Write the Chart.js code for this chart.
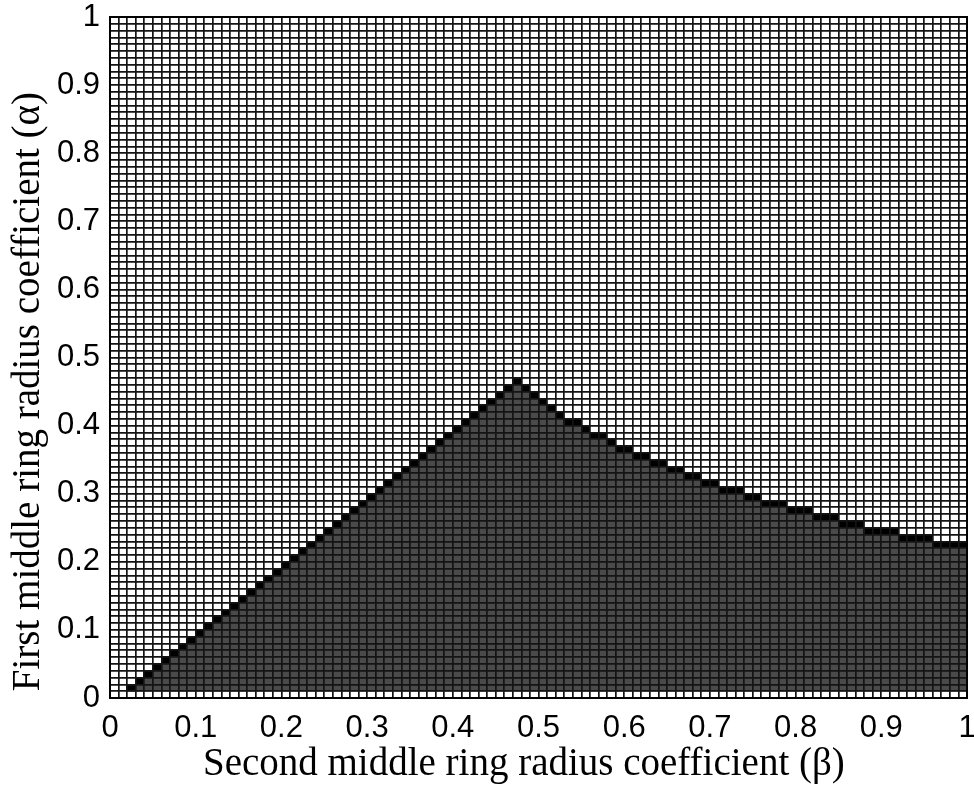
<!DOCTYPE html>
<html>
<head>
<meta charset="utf-8">
<script src="https://cdn.jsdelivr.net/npm/chart.js@4"></script>
<style>
  html, body { margin: 0; padding: 0; background: #fff; }
  #wrap { width: 974px; height: 788px; }
</style>
</head>
<body>
<div id="wrap"><canvas id="mapChart"></canvas></div>
<script>
// left edge of every grid column (beta)
const betaCols = [
  0.01, 0.02, 0.03, 0.04, 0.05, 0.06, 0.07, 0.08, 0.09, 0.10,
  0.11, 0.12, 0.13, 0.14, 0.15, 0.16, 0.17, 0.18, 0.19, 0.20,
  0.21, 0.22, 0.23, 0.24, 0.25, 0.26, 0.27, 0.28, 0.29, 0.30,
  0.31, 0.32, 0.33, 0.34, 0.35, 0.36, 0.37, 0.38, 0.39, 0.40,
  0.41, 0.42, 0.43, 0.44, 0.45, 0.46, 0.47, 0.48, 0.49, 0.50,
  0.51, 0.52, 0.53, 0.54, 0.55, 0.56, 0.57, 0.58, 0.59, 0.60,
  0.61, 0.62, 0.63, 0.64, 0.65, 0.66, 0.67, 0.68, 0.69, 0.70,
  0.71, 0.72, 0.73, 0.74, 0.75, 0.76, 0.77, 0.78, 0.79, 0.80,
  0.81, 0.82, 0.83, 0.84, 0.85, 0.86, 0.87, 0.88, 0.89, 0.90,
  0.91, 0.92, 0.93, 0.94, 0.95, 0.96, 0.97, 0.98, 0.99
];

// top of the feasible (filled) region in each column (alpha); null = empty
const alphaTop = [
  null, 0.02, 0.03, 0.04, 0.05, 0.06, 0.07, 0.08, 0.09, 0.10,
  0.11, 0.12, 0.13, 0.14, 0.15, 0.16, 0.17, 0.18, 0.19, 0.20,
  0.21, 0.22, 0.23, 0.24, 0.25, 0.26, 0.27, 0.28, 0.29, 0.30,
  0.31, 0.32, 0.33, 0.34, 0.35, 0.36, 0.37, 0.38, 0.39, 0.40,
  0.41, 0.42, 0.43, 0.44, 0.45, 0.46, 0.47, 0.46, 0.45, 0.44,
  0.43, 0.42, 0.41, 0.41, 0.40, 0.39, 0.39, 0.38, 0.37, 0.37,
  0.36, 0.36, 0.35, 0.35, 0.34, 0.34, 0.33, 0.33, 0.32, 0.32,
  0.31, 0.31, 0.31, 0.30, 0.30, 0.29, 0.29, 0.29, 0.28, 0.28,
  0.28, 0.27, 0.27, 0.27, 0.26, 0.26, 0.26, 0.25, 0.25, 0.25,
  0.25, 0.24, 0.24, 0.24, 0.24, 0.23, 0.23, 0.23, 0.23
];

const tickLabels = ['0', '0.1', '0.2', '0.3', '0.4', '0.5', '0.6', '0.7', '0.8', '0.9', '1'];

const cellStep = 0.01;
const r2 = v => Math.round(v * 1000) / 1000;

// gray body of each column and the black cell on top of it
const bodyBars = [];
const edgeBars = [];
betaCols.forEach((b, i) => {
  const top = alphaTop[i];
  if (top === null) return;
  const xc = r2(b + cellStep / 2);
  if (top - cellStep > cellStep + 1e-9) bodyBars.push({x: xc, y: [cellStep, r2(top - cellStep)]});
  edgeBars.push({x: xc, y: [r2(top - cellStep), top]});
});

const gridColor = ctx => {
  const v = ctx.tick ? ctx.tick.value : null;
  return (v === 0 || v === 1) ? 'rgba(0,0,0,0)' : '#141414';
};
const tickLabel = (value, index) => (index % 10 === 0 ? tickLabels[index / 10] : '');

const tickFont = {family: 'Liberation Sans', size: 31};
const titleFont = {family: 'Liberation Serif', size: 39};

let makeChart = function() {
  const ctx = document.getElementById('mapChart');

  new Chart(ctx, {
    type: 'bar',
    data: {
      datasets: [
        {
          label: 'region',
          data: bodyBars,
          backgroundColor: '#4a4a4a',
          borderWidth: 0,
          grouped: false,
          barPercentage: 1,
          categoryPercentage: 1,
        },
        {
          label: 'boundary',
          data: edgeBars,
          backgroundColor: '#000000',
          borderWidth: 0,
          grouped: false,
          barPercentage: 1,
          categoryPercentage: 1,
        },
      ]
    },
    options: {
      maintainAspectRatio: false,
      responsive: true,
      animation: false,
      layout: { padding: 0 },
      plugins: {
        legend: { display: false },
        tooltip: { enabled: false },
      },
      scales: {
        x: {
          type: 'linear',
          position: 'bottom',
          min: 0,
          max: 1,
          offset: false,
          ticks: {
            stepSize: 0.01,
            autoSkip: false,
            maxRotation: 0,
            minRotation: 0,
            padding: 12,
            color: '#000',
            font: tickFont,
            callback: tickLabel,
          },
          grid: { color: gridColor, lineWidth: 1.7, drawTicks: false, offset: false, z: 1 },
          border: { color: '#000', width: 2, z: 2 },
          title: {
            display: true,
            // trailing spaces nudge the label toward the origin, as in the original
            text: 'Second middle ring radius coefficient (β)\u00a0\u00a0\u00a0',
            color: '#000',
            font: titleFont,
            padding: { top: 4, bottom: 0 },
          },
          afterFit: s => { s.height = 90; s.paddingLeft = 0; s.paddingRight = 0; },
        },
        y: {
          type: 'linear',
          position: 'left',
          min: 0,
          max: 1,
          ticks: {
            stepSize: 0.01,
            autoSkip: false,
            padding: 10,
            color: '#000',
            font: tickFont,
            callback: tickLabel,
          },
          grid: { color: gridColor, lineWidth: 1.7, drawTicks: false, z: 1 },
          border: { color: '#000', width: 2, z: 2 },
          title: {
            display: true,
            text: 'First middle ring radius coefficient (α)\u00a0\u00a0\u00a0\u00a0\u00a0\u00a0\u00a0',
            color: '#000',
            font: titleFont,
            padding: { top: 5, bottom: 4 },
          },
          afterFit: s => { s.width = 110; s.paddingTop = 0; s.paddingBottom = 0; },
        },
        x2: {
          type: 'linear',
          position: 'top',
          min: 0,
          max: 1,
          ticks: { display: false },
          grid: { display: false },
          border: { color: '#000', width: 2, z: 2 },
          afterFit: s => { s.height = 17; },
        },
        y2: {
          type: 'linear',
          position: 'right',
          min: 0,
          max: 1,
          ticks: { display: false },
          grid: { display: false },
          border: { color: '#000', width: 2, z: 2 },
          afterFit: s => { s.width = 7; },
        },
      }
    }
  });
};

document.addEventListener('DOMContentLoaded', makeChart, false);
</script>
</body>
</html>
